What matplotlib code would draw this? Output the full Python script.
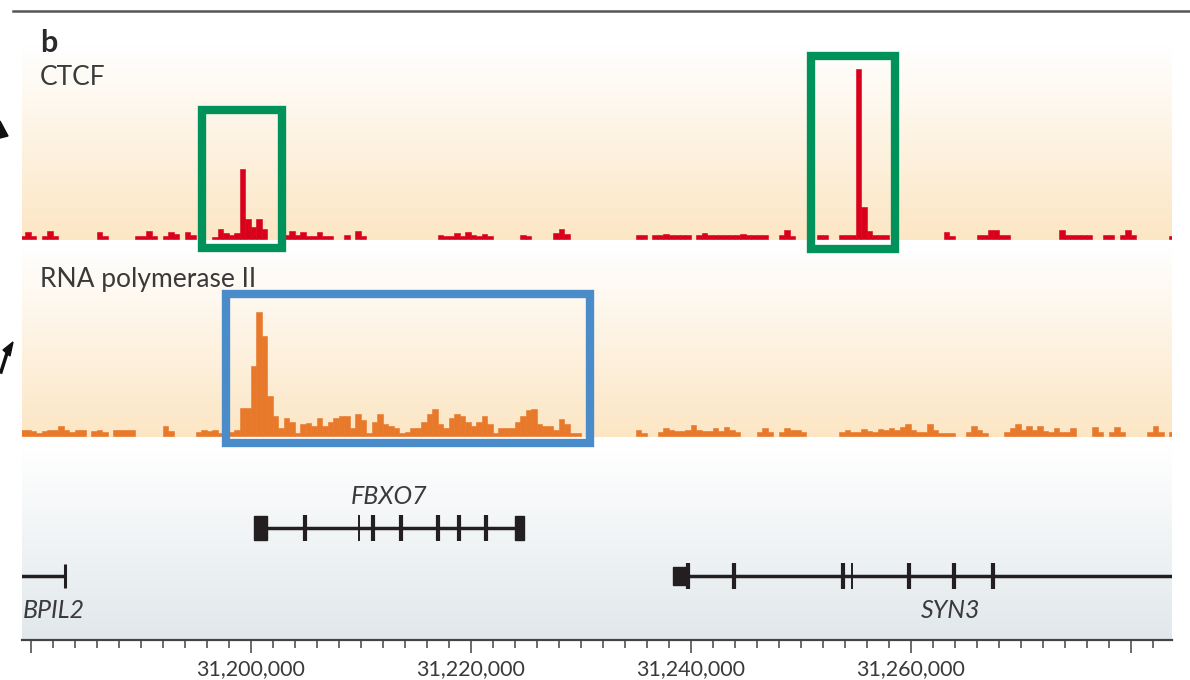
"""
ChIP-seq tracks (CTCF / RNA polymerase II) over the FBXO7 locus, with gene models and a coordinate ruler.
"""

import matplotlib.pyplot as plt
import numpy as np
from matplotlib.colors import LinearSegmentedColormap
from matplotlib.lines import Line2D
from matplotlib.patches import Polygon, Rectangle
from matplotlib.ticker import FixedLocator, FuncFormatter, MultipleLocator

plt.rcParams["font.family"] = ["Lato", "DejaVu Sans"]

nan = np.nan

# ---- signal tracks: 500 bp bins starting at BIN_START (nan = no reads) ----
BIN_START = 31_179_000
BIN_SIZE = 500

ctcf_signal = [
    3, 7, 3, nan, 3, 8, 3, nan, nan, nan,            # 0-9
    nan, nan, nan, nan, 7, 3, nan, nan, nan, nan,    # 10-19
    nan, 3, 3, 8, 3, nan, 3, 7, 5, nan,              # 20-29
    7, 4, nan, nan, nan, 2, 10, 6, 4, 6,             # 30-39
    70, 20, 12, 20, 10, nan, nan, nan, 4, 8,         # 40-49
    4, 7, 3, 3, 7, 3, 3, nan, nan, 4,                # 50-59
    nan, 8, 3, nan, nan, nan, nan, nan, nan, nan,    # 60-69
    nan, nan, nan, nan, nan, nan, 4, 3, 3, 6,        # 70-79
    3, 7, 4, 3, 5, 3, nan, nan, nan, nan,            # 80-89
    nan, 4, 3, nan, nan, nan, nan, 6, 10, 5,         # 90-99
    nan, nan, nan, nan, nan, nan, nan, nan, nan, nan,  # 100-109
    nan, nan, 4, 4, nan, 4, 4, 5, 4, 4,              # 110-119
    4, 4, nan, 4, 6, 4, 4, 4, 4, 4,                  # 120-129
    4, 5, 4, 4, 4, 4, nan, nan, 4, 9,                # 130-139
    3, nan, nan, nan, nan, 4, 4, nan, nan, 4,        # 140-149
    4, 4, 170, 32, 8, 4, 4, 4, nan, nan,             # 150-159
    nan, nan, nan, nan, nan, nan, nan, nan, 7, 3,    # 160-169
    nan, nan, nan, nan, 4, 4, 9, 9, 4, 4,            # 170-179
    nan, nan, nan, nan, nan, nan, nan, nan, nan, 9,  # 180-189
    4, 4, 4, 4, 4, nan, nan, 4, 4, nan,              # 190-199
    4, 9, 4, nan, nan, nan, nan, nan, nan, 3,        # 200-209
]

pol2_signal = [
    6, 6, 5, 3, 5, 6, 6, 10, 6, 4,                   # 0-9
    6, 6, nan, 5, 6, 4, nan, 6, 6, 6,                # 10-19
    6, nan, nan, nan, nan, nan, 10, 5, nan, nan,     # 20-29
    nan, nan, 4, 6, 5, 6, 3, 3, 4, 6,                # 30-39
    28, 28, 70, 124, 100, 40, 20, 8, 18, 14,         # 40-49
    3, 12, 13, 10, 18, 10, 14, 18, 20, 20,           # 50-59
    8, 22, 16, 3, 14, 22, 12, 10, 8, 3,              # 60-69
    4, 8, 8, 14, 22, 27, 12, 8, 18, 22,              # 70-79
    20, 14, 10, 14, 20, 12, 3, 8, 8, 8,              # 80-89
    14, 20, 26, 27, 12, 10, 10, 6, 17, 12,           # 90-99
    3, 3, nan, nan, nan, nan, nan, nan, nan, nan,    # 100-109
    nan, nan, 6, 3, nan, nan, 4, 8, 6, 5,            # 110-119
    5, 6, 11, 6, 5, 5, 8, 5, 9, 6,                   # 120-129
    4, nan, nan, nan, 4, 8, 4, nan, 4, 8,            # 130-139
    6, 6, 4, nan, nan, nan, nan, nan, nan, 4,        # 140-149
    6, 4, 4, 7, 5, 4, 7, 6, 8, 6,                    # 150-159
    9, 12, 6, 4, 4, 12, 6, 3, 3, 3,                  # 160-169
    nan, nan, 4, 10, 6, 3, nan, nan, nan, 4,         # 170-179
    8, 12, 6, 10, 6, 10, 5, 4, 8, 4,                 # 180-189
    4, 8, nan, nan, nan, 9, 4, nan, 4, 9,            # 190-199
    4, nan, nan, nan, nan, 4, 10, 4, nan, 4,         # 200-209
]

# ---- gene models (bp) ----
fbxo7_span = (31_200_300, 31_224_850)
fbxo7_blocks = [(31_200_300, 31_201_450), (31_224_050, 31_224_850)]
fbxo7_exons = [31_204_900, 31_211_100, 31_213_700, 31_217_000, 31_218_900, 31_221_400]
fbxo7_thin = [31_209_800]

bpil2_end = 31_183_100

syn3_span = (31_238_400, 31_290_000)
syn3_blocks = [(31_238_400, 31_239_600)]
syn3_exons = [31_239_750, 31_243_900, 31_253_800, 31_259_800, 31_263_900, 31_267_500]
syn3_thin = [31_254_700]

# ---- highlighted regions (bp) ----
ctcf_boxes = [(31_195_600, 31_202_800), (31_250_900, 31_258_600)]
pol2_box = (31_197_750, 31_230_850)

# ---- ruler ----
major_ticks = [31_180_000, 31_200_000, 31_220_000, 31_240_000, 31_260_000, 31_280_000]
labelled_ticks = [31_200_000, 31_220_000, 31_240_000, 31_260_000]

XMIN, XMAX = 31_179_200, 31_283_750

CTCF_RED = "#D9001B"
POL2_ORANGE = "#E8782A"
GREEN = "#00925A"
BLUE = "#4A8CC9"
INK = "#231F20"
TEXT = "#3A3A3A"

W, H = 1190, 680
fig = plt.figure(figsize=(W / 100, H / 100), dpi=100)


def px_axes(x0, y0, x1, y1):
    return fig.add_axes([x0 / W, 1 - y1 / H, (x1 - x0) / W, (y1 - y0) / H])


def gradient(ax, top, bottom):
    cmap = LinearSegmentedColormap.from_list("bg", [top, bottom])
    ax.imshow(
        np.linspace(0, 1, 256).reshape(-1, 1),
        cmap=cmap,
        aspect="auto",
        extent=[0, 1, 0, 1],
        transform=ax.transAxes,
        zorder=0,
        interpolation="bilinear",
    )


def signal(ax, values, color):
    v = np.array(values, dtype=float)
    x = BIN_START + BIN_SIZE * np.arange(len(v))
    m = ~np.isnan(v)
    ax.bar(x[m], v[m], width=BIN_SIZE, align="edge", color=color,
           edgecolor=color, linewidth=0.4, zorder=2)


# === CTCF track ===
ax_c = px_axes(22, 45, 1172, 240)
gradient(ax_c, "#FFFFFF", "#FCE6C4")
signal(ax_c, ctcf_signal, CTCF_RED)
ax_c.set_xlim(XMIN, XMAX)
ax_c.set_ylim(-1, 194)
for (x0, x1), (y0, y1) in zip(ctcf_boxes, [(-8.5, 129.5), (-10, 183)]):
    ax_c.add_patch(Rectangle((x0, y0), x1 - x0, y1 - y0, fill=False,
                             edgecolor=GREEN, linewidth=6, clip_on=False, zorder=4))
ax_c.axis("off")
ax_c.set_zorder(3)

# === RNA polymerase II track ===
ax_p = px_axes(22, 245, 1172, 437)
gradient(ax_p, "#FFFFFF", "#FCE6C4")
signal(ax_p, pol2_signal, POL2_ORANGE)
ax_p.set_xlim(XMIN, XMAX)
ax_p.set_ylim(-1, 191)
ax_p.add_patch(Rectangle((pol2_box[0], -7), pol2_box[1] - pol2_box[0], 149, fill=False,
                         edgecolor=BLUE, linewidth=6, clip_on=False, zorder=4))
ax_p.axis("off")
ax_p.set_zorder(2)

# === gene track + ruler ===
ax_g = px_axes(22, 445, 1172, 640)
gradient(ax_g, "#FFFFFF", "#E1E8EB")
ax_g.set_xlim(XMIN, XMAX)
ax_g.set_ylim(640, 445)  # pixel rows, top to bottom
ax_g.set_zorder(1)

# FBXO7
ax_g.hlines(528, *fbxo7_span, color=INK, linewidth=2.5, zorder=3)
for a, b in fbxo7_blocks:
    ax_g.add_patch(Rectangle((a, 516), b - a, 24, color=INK, zorder=3))
ax_g.vlines(fbxo7_exons, 515, 541, color=INK, linewidth=3, zorder=3)
ax_g.vlines(fbxo7_thin, 515, 541, color=INK, linewidth=1.4, zorder=3)
ax_g.text(sum(fbxo7_span) / 2, 496, "FBXO7", style="italic", fontsize=18,
          color=TEXT, ha="center", va="center")

# BPIL2
ax_g.hlines(576, XMIN - 5000, bpil2_end, color=INK, linewidth=2.5, zorder=3)
ax_g.vlines(bpil2_end, 564, 588, color=INK, linewidth=2.2, zorder=3)
ax_g.text(XMIN + 100, 610, "BPIL2", style="italic", fontsize=18,
          color=TEXT, ha="left", va="center")

# SYN3
ax_g.hlines(576, *syn3_span, color=INK, linewidth=2.5, zorder=3)
for a, b in syn3_blocks:
    ax_g.add_patch(Rectangle((a, 567), b - a, 18, color=INK, zorder=3))
ax_g.vlines(syn3_exons, 563, 589, color=INK, linewidth=3, zorder=3)
ax_g.vlines(syn3_thin, 563, 589, color=INK, linewidth=1.4, zorder=3)
ax_g.text(31_263_600, 611, "SYN3", style="italic", fontsize=18,
          color=TEXT, ha="center", va="center")

for side in ["top", "left", "right"]:
    ax_g.spines[side].set_visible(False)
ax_g.spines["bottom"].set_linewidth(1.6)
ax_g.spines["bottom"].set_color("#444444")
ax_g.set_yticks([])
ax_g.xaxis.set_major_locator(FixedLocator(major_ticks))
ax_g.xaxis.set_major_formatter(
    FuncFormatter(lambda v, p: f"{v:,.0f}" if round(v) in labelled_ticks else "")
)
ax_g.xaxis.set_minor_locator(MultipleLocator(2000))
ax_g.tick_params(axis="x", which="major", length=9, width=1.1, pad=5,
                 labelsize=15.5, color="#444444", labelcolor=TEXT)
ax_g.tick_params(axis="x", which="minor", length=6, width=1.1, color="#444444")

# === labels and frame ===
fig.text(40 / W, 1 - 52 / H, "b", fontsize=22, fontweight="bold", color="#2A2A2A",
         va="baseline")
fig.text(40 / W, 1 - 85 / H, "CTCF", fontsize=19, color=TEXT, va="baseline")
fig.text(40 / W, 1 - 287 / H, "RNA polymerase II", fontsize=19, color=TEXT, va="baseline")

fig.add_artist(Line2D([13 / W, 1], [1 - 10.5 / H] * 2, color="#555555", linewidth=1.8))


def px(x, y):
    return (x / W, 1 - y / H)


# cut-off arrow heads from the neighbouring panel
fig.add_artist(Polygon([px(0, 121), px(8, 136), px(0, 138)], closed=True,
                       color="#111111", transform=fig.transFigure))
fig.add_artist(Line2D([1 / W, 8 / W], [1 - 372 / H, 1 - 350 / H], color="#111111",
                      linewidth=2.5))
fig.add_artist(Polygon([px(3, 350), px(13, 342), px(10, 356)], closed=True,
                       color="#111111", transform=fig.transFigure))

fig.savefig("out.png", dpi=100)
